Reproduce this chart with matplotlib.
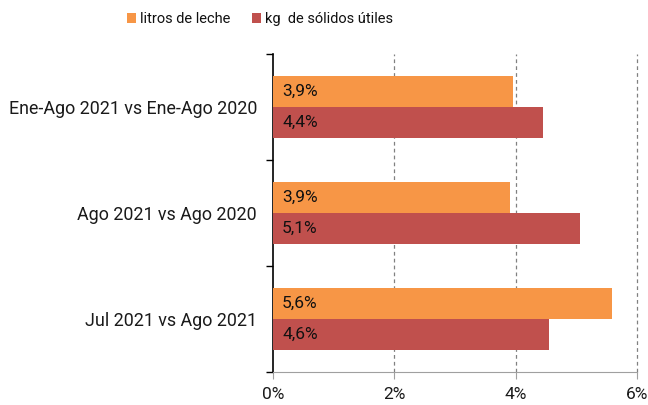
import matplotlib.pyplot as plt
from matplotlib import font_manager
import numpy as np

plt.rcParams['font.family'] = ['Roboto', 'DejaVu Sans']

categories = ['Ene-Ago 2021 vs Ene-Ago 2020', 'Ago 2021 vs Ago 2020', 'Jul 2021 vs Ago 2021']
litros = [3.95, 3.9, 5.58]
solidos = [4.45, 5.06, 4.55]
litros_lbl = ['3,9%', '3,9%', '5,6%']
solidos_lbl = ['4,4%', '5,1%', '4,6%']
series_names = ['litros de leche', 'kg  de sólidos útiles']
xticks = [0, 2, 4, 6]

c_orange = '#F79646'
c_red = '#C0504D'

# legend in the reference uses a narrow face
narrow = [f.name for f in font_manager.fontManager.ttflist if 'Narrow' in f.name or 'Condensed' in f.name]
print(sorted(set(narrow)))
if 'Liberation Sans Narrow' in narrow:
    leg_font = dict(family='Liberation Sans Narrow', size=12.5)
else:
    leg_font = dict(family='Roboto', size=10.5)

fig = plt.figure(figsize=(6.48, 4.05), dpi=100)
ax = fig.add_axes([273/648, 1-372/405, (637-273)/648, (372-54)/405])

y = np.arange(len(categories))
h = 0.288
b1 = ax.barh(y - h/2, litros, height=h, color=c_orange, label=series_names[0], zorder=3)
b2 = ax.barh(y + h/2, solidos, height=h, color=c_red, label=series_names[1], zorder=3)

for i in range(len(categories)):
    ax.text(0.15, y[i] - h/2, litros_lbl[i], va='center', ha='left', fontsize=12.5, color='#111111', zorder=4)
    ax.text(0.15, y[i] + h/2, solidos_lbl[i], va='center', ha='left', fontsize=12.5, color='#111111', zorder=4)

ax.set_xlim(0, 6)
ax.set_ylim(2.5, -0.5)
ax.set_xticks(xticks)
ax.set_xticklabels([f'{t}%' for t in xticks], fontsize=12.5, color='#1a1a1a')
ax.set_yticks(y)
ax.set_yticklabels(categories, fontsize=12.9, color='#1a1a1a')
ax.tick_params(axis='y', which='major', length=0, pad=11.5)
ax.set_yticks([-0.5, 0.5, 1.5, 2.5], minor=True)
ax.tick_params(axis='y', which='minor', length=5, width=1, color='black')
ax.tick_params(axis='x', length=5, color='#a0a0a0', pad=6)

for t in xticks[1:]:
    ax.axvline(t, linestyle=(0, (3, 2.5)), color='#808080', linewidth=0.9, zorder=1, clip_on=False)
for s in ['top', 'right']:
    ax.spines[s].set_visible(False)
ax.spines['left'].set_color('black')
ax.spines['left'].set_linewidth(1.2)
ax.spines['bottom'].set_color('#a0a0a0')
ax.spines['bottom'].set_zorder(5)

fig.legend(handles=[b1, b2], loc='center', bbox_to_anchor=(0.401, 1-19/405), ncol=2,
           frameon=False, prop=leg_font, handlelength=0.65, handleheight=0.65,
           handletextpad=0.25, columnspacing=1.45, labelcolor='#111111')

fig.savefig('out.png', dpi=100)
